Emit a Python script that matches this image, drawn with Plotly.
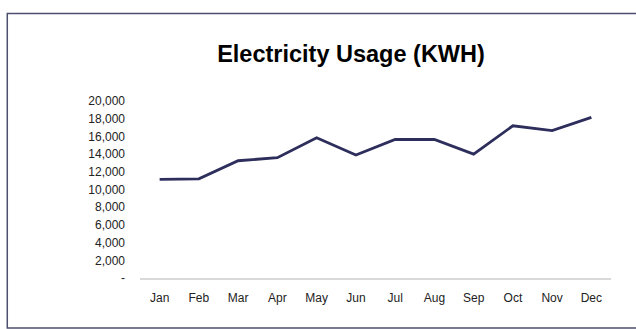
import plotly.graph_objects as go

# Monthly electricity consumption (kWh)
months = ["Jan", "Feb", "Mar", "Apr", "May", "Jun",
          "Jul", "Aug", "Sep", "Oct", "Nov", "Dec"]
usage_kwh = [11150, 11200, 13250, 13600, 15850, 13900,
             15650, 15650, 14000, 17200, 16650, 18150]

# Value axis ticks and their labels (zero shown as a dash)
y_tick_values = [0, 2000, 4000, 6000, 8000, 10000,
                 12000, 14000, 16000, 18000, 20000]
y_tick_labels = ["-", "2,000", "4,000", "6,000", "8,000", "10,000",
                 "12,000", "14,000", "16,000", "18,000", "20,000"]

W, H = 636, 329
left, right, top, bottom = 139.5, 24.5, 101, 51
plot_w = W - left - right
plot_h = H - top - bottom

font_family = "Liberation Sans, Arial, Helvetica, sans-serif"

fig = go.Figure(
    go.Scatter(
        x=months,
        y=usage_kwh,
        mode="lines",
        line=dict(color="#2d2e5c", width=2.8),
        hoverinfo="x+y",
    )
)


def px_x(p):
    return (p - left) / plot_w


def px_y(p):
    return (H - bottom - p) / plot_h


# Outer chart border
fig.add_shape(
    type="rect", xref="paper", yref="paper",
    x0=px_x(6.5), x1=px_x(660), y0=px_y(328), y1=px_y(13.5),
    line=dict(color="#4d4f6e", width=1.5),
    fillcolor="rgba(0,0,0,0)",
    layer="below",
)

fig.update_layout(
    width=W,
    height=H,
    margin=dict(l=left, r=right, t=top, b=bottom, pad=0),
    paper_bgcolor="white",
    plot_bgcolor="white",
    showlegend=False,
    font=dict(family=font_family, color="#222222", size=12),
    title=dict(
        text="<b>Electricity Usage (KWH)</b>",
        x=351 / W,
        xanchor="center",
        y=1 - 54 / H,
        yanchor="middle",
        xref="container",
        yref="container",
        font=dict(family=font_family, size=23.5, color="#000000"),
    ),
    xaxis=dict(
        type="category",
        range=[-0.5, 11.5],
        showgrid=False,
        zeroline=False,
        showline=True,
        linecolor="#d9d9d9",
        linewidth=1.5,
        ticks="",
        ticklabelstandoff=8,
        tickfont=dict(size=12, color="#222222"),
    ),
    yaxis=dict(
        range=[0, 20000],
        tickmode="array",
        tickvals=y_tick_values,
        ticktext=y_tick_labels,
        showgrid=False,
        zeroline=False,
        showline=False,
        ticks="",
        ticklabelstandoff=14,
        tickfont=dict(size=12, color="#222222"),
    ),
)

fig.write_html("out.html")
